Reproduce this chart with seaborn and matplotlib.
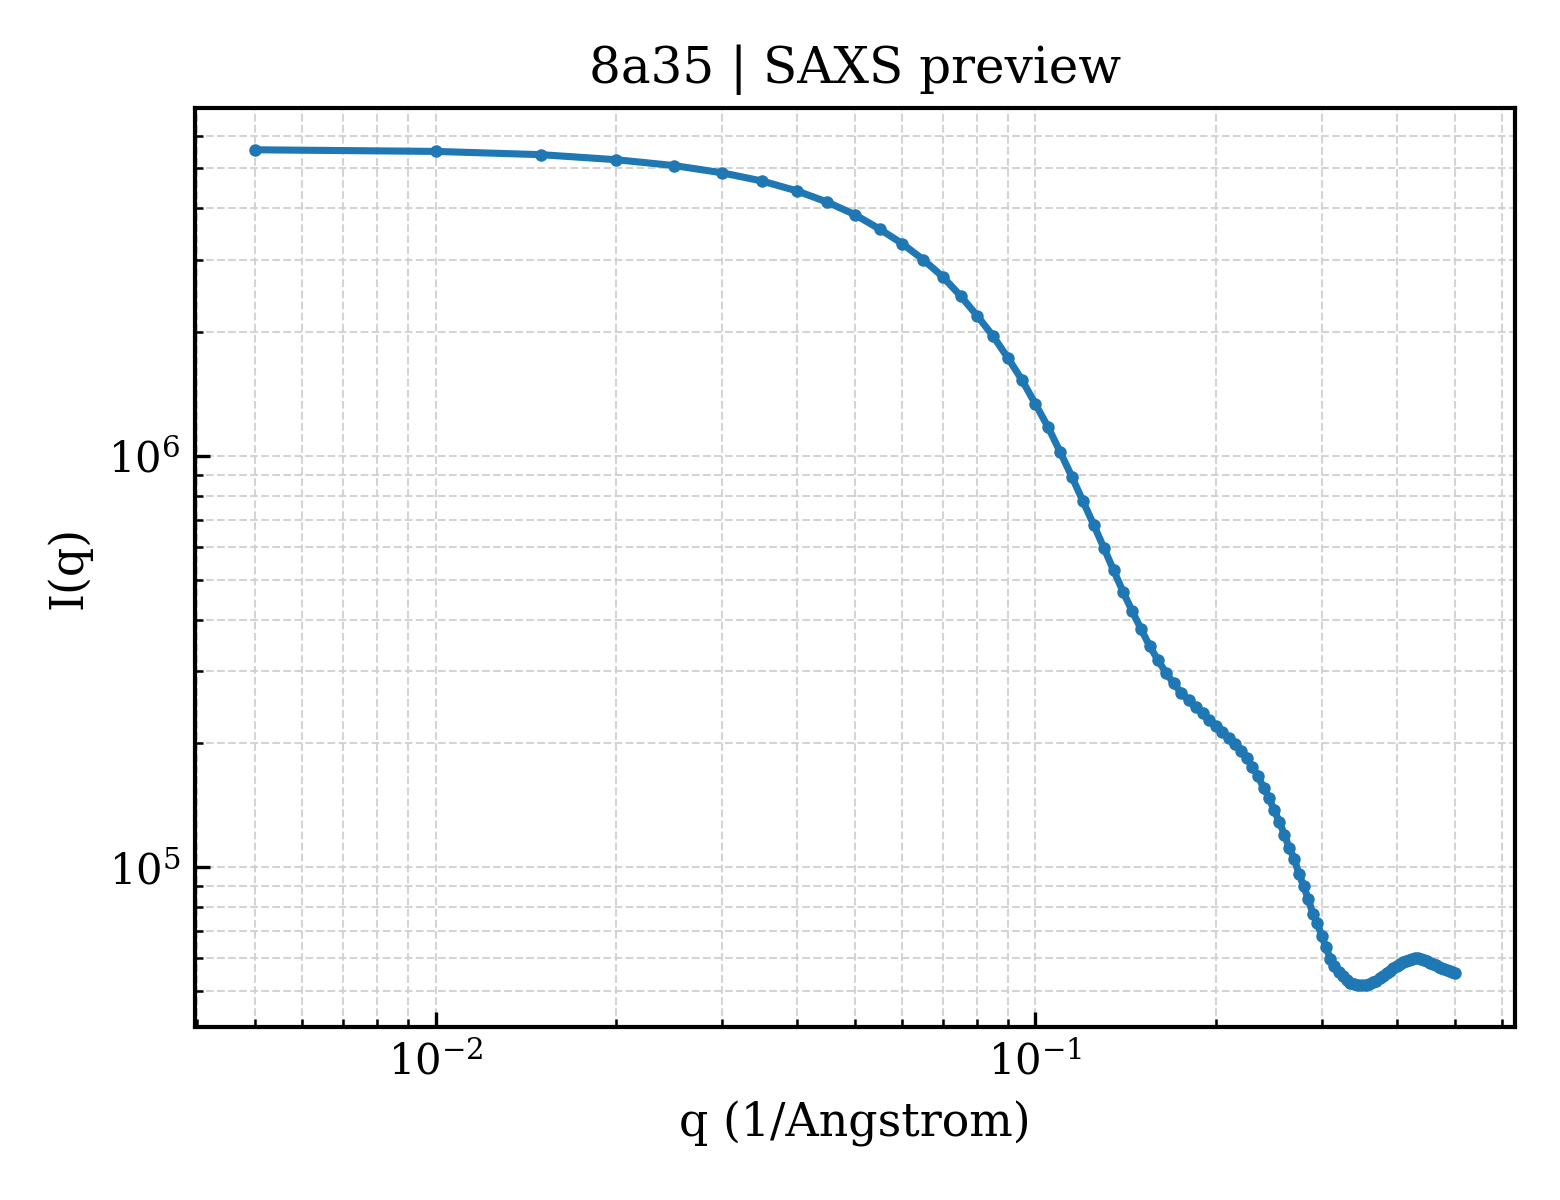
import numpy as np
import pandas as pd
import matplotlib
matplotlib.use("Agg")
import matplotlib.pyplot as plt
import seaborn as sns

# q values (1/Angstrom)
q = [
    0.005, 0.010, 0.015, 0.020, 0.025, 0.030, 0.035, 0.040, 0.045, 0.050,
    0.055, 0.060, 0.065, 0.070, 0.075, 0.080, 0.085, 0.090, 0.095, 0.100,
    0.105, 0.110, 0.115, 0.120, 0.125, 0.130, 0.135, 0.140, 0.145, 0.150,
    0.155, 0.160, 0.165, 0.170, 0.175, 0.180, 0.185, 0.190, 0.195, 0.200,
    0.205, 0.210, 0.215, 0.220, 0.225, 0.230, 0.235, 0.240, 0.245, 0.250,
    0.255, 0.260, 0.265, 0.270, 0.275, 0.280, 0.285, 0.290, 0.295, 0.300,
    0.305, 0.310, 0.315, 0.320, 0.325, 0.330, 0.335, 0.340, 0.345, 0.350,
    0.355, 0.360, 0.365, 0.370, 0.375, 0.380, 0.385, 0.390, 0.395, 0.400,
    0.405, 0.410, 0.415, 0.420, 0.425, 0.430, 0.435, 0.440, 0.445, 0.450,
    0.455, 0.460, 0.465, 0.470, 0.475, 0.480, 0.485, 0.490, 0.495, 0.500,
]

# intensity I(q)
intensity = [
    5.55e6, 5.50e6, 5.40e6, 5.25e6, 5.08e6, 4.88e6, 4.66e6, 4.41e6, 4.14e6, 3.86e6,
    3.56e6, 3.28e6, 3.00e6, 2.73e6, 2.45e6, 2.19e6, 1.955e6, 1.729e6, 1.528e6, 1.336e6,
    1.174e6, 1.021e6, 8.90e5, 7.76e5, 6.81e5, 5.98e5, 5.27e5, 4.67e5, 4.19e5, 3.79e5,
    3.45e5, 3.19e5, 2.97e5, 2.80e5, 2.655e5, 2.55e5, 2.45e5, 2.37e5, 2.28e5, 2.21e5,
    2.13e5, 2.06e5, 1.99e5, 1.92e5, 1.84e5, 1.754e5, 1.665e5, 1.561e5, 1.472e5, 1.376e5,
    1.290e5, 1.200e5, 1.112e5, 1.049e5, 9.62e4, 8.99e4, 8.36e4, 7.71e4, 7.31e4, 6.81e4,
    6.39e4, 5.99e4, 5.76e4, 5.57e4, 5.43e4, 5.32e4, 5.24e4, 5.19e4, 5.16e4, 5.16e4,
    5.18e4, 5.19e4, 5.25e4, 5.30e4, 5.37e4, 5.45e4, 5.52e4, 5.60e4, 5.68e4, 5.76e4,
    5.82e4, 5.89e4, 5.92e4, 5.96e4, 5.97e4, 6.00e4, 6.00e4, 5.97e4, 5.94e4, 5.90e4,
    5.86e4, 5.81e4, 5.77e4, 5.73e4, 5.70e4, 5.67e4, 5.63e4, 5.60e4, 5.57e4, 5.54e4,
]

title = "8a35 | SAXS preview"
xlabel = "q (1/Angstrom)"
ylabel = "I(q)"

sns.set_theme(style="ticks")
plt.rcParams["font.family"] = ["DejaVu Serif"]
plt.rcParams["mathtext.fontset"] = "dejavuserif"
plt.rcParams["axes.edgecolor"] = "black"
plt.rcParams["axes.linewidth"] = 1.0
plt.rcParams["text.color"] = "black"
plt.rcParams["axes.labelcolor"] = "black"
plt.rcParams["xtick.color"] = "black"
plt.rcParams["ytick.color"] = "black"

df = pd.DataFrame({"q": q, "I": intensity})

fig, ax = plt.subplots(figsize=(5.2, 4.0), dpi=300)
fig.subplots_adjust(left=0.125, right=0.971, top=0.91, bottom=0.144)

sns.lineplot(data=df, x="q", y="I", ax=ax, color="#1f77b4", linewidth=1.7,
             marker="o", markersize=3.0, markeredgewidth=0, estimator=None, sort=False)

ax.set_xscale("log")
ax.set_yscale("log")
ax.margins(x=0.05, y=0.05)

ax.grid(True, which="both", linestyle="--", linewidth=0.5, color="#d0d0d0", alpha=0.9)
ax.set_axisbelow(True)

ax.tick_params(axis="both", which="major", direction="in", length=3.5, width=0.8,
               labelsize=10, colors="black", top=False, right=False)
ax.tick_params(axis="both", which="minor", direction="in", length=2.0, width=0.6,
               colors="black", top=False, right=False)

ax.set_title(title, fontsize=12, color="black")
ax.set_xlabel(xlabel, fontsize=11, color="black")
ax.set_ylabel(ylabel, fontsize=11, color="black")

for s in ax.spines.values():
    s.set_visible(True)
    s.set_color("black")
    s.set_linewidth(1.0)

fig.savefig("out.png", dpi=300)
